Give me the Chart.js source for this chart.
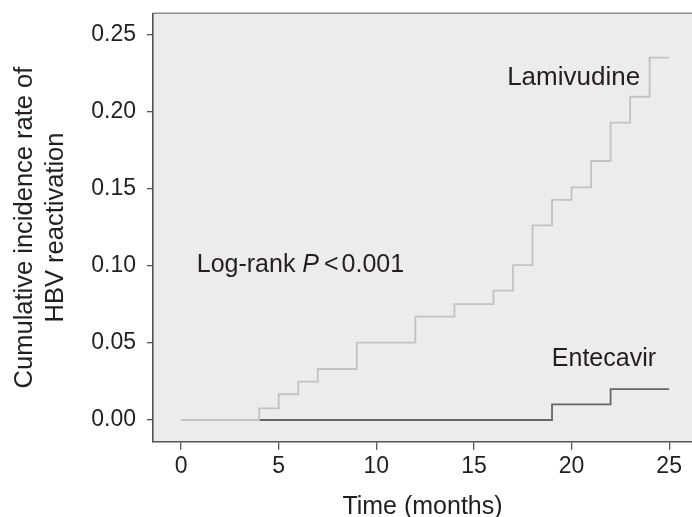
<!DOCTYPE html>
<html><head><meta charset="utf-8">
<script src="https://cdn.jsdelivr.net/npm/chart.js@4/dist/chart.umd.min.js"></script>
<style>html,body{margin:0;padding:0;background:#fff}#wrap{width:692px;height:517px;position:relative}</style>
</head><body><div id="wrap"><canvas id="c"></canvas></div>
<script>
// ---- data ----
const lamTime = [0, 4, 5, 6, 7, 9, 12, 14, 16, 17, 18, 19, 20, 21, 22, 23, 24, 25];
const lamRate = [0, 0.0076, 0.0167, 0.0249, 0.0331, 0.0502, 0.0671, 0.0753, 0.0840, 0.1006, 0.1264, 0.1429, 0.1511, 0.1682, 0.1931, 0.2099, 0.2353, 0.2353];
const entTime = [0, 19, 22, 25];
const entRate = [0, 0.0102, 0.0201, 0.0201];
const xTickValues = [0, 5, 10, 15, 20, 25];
const xTickLabels = ['0', '5', '10', '15', '20', '25'];
const yTickValues = [0, 0.05, 0.10, 0.15, 0.20, 0.25];
const yTickLabels = ['0.00', '0.05', '0.10', '0.15', '0.20', '0.25'];
const seriesNames = ['Lamivudine', 'Entecavir'];
const logRankParts = ['Log-rank ', 'P', '<', '0.001'];
const yTitle = ['Cumulative incidence rate of', 'HBV reactivation'];
const xTitle = 'Time (months)';

const FONT = '"Liberation Sans", Arial, Helvetica, sans-serif';
const TXT = '#231f20';
const AX = '#555555';

const decor = {
  id: 'decor',
  beforeDraw(chart) {
    const {ctx, chartArea: a} = chart;
    ctx.save();
    ctx.fillStyle = '#ececec';
    ctx.fillRect(a.left, a.top, a.right - a.left, a.bottom - a.top);
    ctx.strokeStyle = '#8c8c8c';
    ctx.lineWidth = 1.5;
    ctx.beginPath();
    ctx.moveTo(a.left, a.top);
    ctx.lineTo(a.right, a.top);
    ctx.stroke();
    ctx.restore();
  },
  afterDatasetsDraw(chart) {
    const ctx = chart.ctx, xs = chart.scales.x, ys = chart.scales.y;
    ctx.save();
    ctx.fillStyle = TXT;
    ctx.textBaseline = 'alphabetic';
    ctx.textAlign = 'left';
    ctx.font = '26px ' + FONT;
    ctx.fillText(seriesNames[0], xs.getPixelForValue(16.7), ys.getPixelForValue(0.2175));
    ctx.font = '25px ' + FONT;
    ctx.fillText(seriesNames[1], xs.getPixelForValue(18.99), ys.getPixelForValue(0.0351));
    // log-rank annotation
    let x = xs.getPixelForValue(0.8);
    const y = ys.getPixelForValue(0.0963);
    ctx.font = '25px ' + FONT;
    ctx.fillText(logRankParts[0], x, y);
    x += ctx.measureText(logRankParts[0]).width;
    ctx.font = 'italic 25px ' + FONT;
    ctx.fillText(logRankParts[1], x, y);
    x += ctx.measureText(logRankParts[1]).width + 5;
    ctx.font = '25px ' + FONT;
    ctx.fillText(logRankParts[2], x, y);
    x += ctx.measureText(logRankParts[2]).width + 3;
    ctx.fillText(logRankParts[3], x, y);
    ctx.restore();
  }
};

new Chart(document.getElementById('c'), {
  type: 'line',
  data: {
    datasets: [
      {
        label: seriesNames[0],
        data: lamTime.map((t, i) => ({x: t, y: lamRate[i]})),
        borderColor: '#c2c2c2',
        borderWidth: 1.8,
        stepped: true,
        pointRadius: 0,
        fill: false
      },
      {
        label: seriesNames[1],
        data: entTime.map((t, i) => ({x: t, y: entRate[i]})),
        borderColor: '#666666',
        borderWidth: 1.8,
        stepped: true,
        pointRadius: 0,
        fill: false
      }
    ]
  },
  options: {
    responsive: true,
    maintainAspectRatio: false,
    animation: false,
    devicePixelRatio: 1,
    layout: {padding: {top: 13.3, left: 0, right: 0, bottom: 0}},
    plugins: {legend: {display: false}, tooltip: {enabled: false}},
    scales: {
      x: {
        type: 'linear',
        min: -1.44,
        max: 26.17,
        afterBuildTicks: s => { s.ticks = xTickValues.map(v => ({value: v})); },
        afterFit: s => { s.height = 75.3; s.paddingLeft = 0; s.paddingRight = 0; },
        ticks: {
          callback: (v, i) => xTickLabels[i],
          font: {family: FONT, size: 23},
          color: TXT,
          padding: 3,
          maxRotation: 0,
          autoSkip: false
        },
        grid: {drawOnChartArea: false, drawTicks: true, tickLength: 8, color: AX, lineWidth: 1.3},
        border: {display: true, color: AX, width: 1.6},
        title: {display: true, text: xTitle, color: TXT, font: {family: FONT, size: 25, lineHeight: 0.8}, padding: {top: 0, bottom: 0}}
      },
      y: {
        type: 'linear',
        min: -0.0141,
        max: 0.2641,
        afterBuildTicks: s => { s.ticks = yTickValues.map(v => ({value: v})); },
        afterFit: s => { s.width = 153; s.paddingTop = 0; s.paddingBottom = 0; },
        ticks: {
          callback: (v, i) => yTickLabels[i],
          font: {family: FONT, size: 23},
          color: TXT,
          padding: 11,
          autoSkip: false
        },
        grid: {drawOnChartArea: false, drawTicks: true, tickLength: 6, color: AX, lineWidth: 1.3},
        border: {display: true, color: AX, width: 1.6},
        title: {display: true, text: yTitle, color: TXT, font: {family: FONT, size: 25.5, lineHeight: 1.2}, padding: {top: 10, bottom: 0}}
      }
    }
  },
  plugins: [decor]
});
</script>
</body></html>
